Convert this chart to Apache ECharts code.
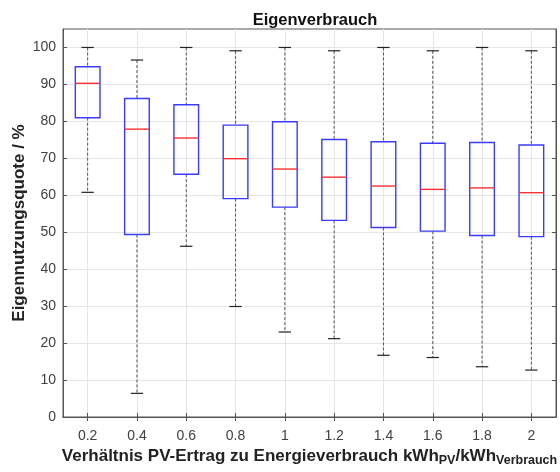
<!DOCTYPE html>
<html>
<head>
<meta charset="utf-8">
<script src="https://cdn.jsdelivr.net/npm/echarts@6/dist/echarts.min.js"></script>
<style>
  html, body { margin: 0; padding: 0; background: #fff; }
  #chart { width: 560px; height: 472px; }
</style>
</head>
<body>
<div id="chart"></div>
<script>
// Verhältnis PV-Ertrag zu Energieverbrauch
var ratios = [0.2, 0.4, 0.6, 0.8, 1.0, 1.2, 1.4, 1.6, 1.8, 2.0];
// Whisker und Box-Werte (Eigennutzungsquote in %)
var whiskerLow = [60.8, 6.4, 46.2, 29.9, 23.0, 21.2, 16.7, 16.1, 13.6, 12.7];
var boxLow = [81.0, 49.4, 65.7, 59.1, 56.8, 53.2, 51.3, 50.3, 49.1, 48.8];
var median = [90.3, 77.9, 75.5, 69.9, 67.1, 64.9, 62.5, 61.6, 62.0, 60.7];
var boxHigh = [94.8, 86.2, 84.5, 79.0, 79.9, 75.1, 74.5, 74.1, 74.3, 73.6];
var whiskerHigh = [100, 96.6, 100, 99.1, 100, 99.1, 100, 99.1, 100, 99.1];
var yTicks = [0, 10, 20, 30, 40, 50, 60, 70, 80, 90, 100];

var boxData = ratios.map(function (r, i) {
  return [r, whiskerLow[i], boxLow[i], median[i], boxHigh[i], whiskerHigh[i]];
});

var chart = echarts.init(document.getElementById('chart'));

function renderBox(params, api) {
  var x = api.value(0);
  var pLow = api.coord([x, api.value(1)]);
  var pQ1 = api.coord([x, api.value(2)]);
  var pMed = api.coord([x, api.value(3)]);
  var pQ3 = api.coord([x, api.value(4)]);
  var pHigh = api.coord([x, api.value(5)]);
  var halfBox = (api.coord([x + 0.05, 0])[0] - pMed[0]);
  var halfCap = halfBox / 2;
  var cx = pMed[0];
  var dash = { stroke: '#555', lineWidth: 1, lineDash: [3, 2] };
  var cap = { stroke: '#222', lineWidth: 1.2 };
  return {
    type: 'group',
    children: [
      { type: 'line', shape: { x1: cx, y1: pHigh[1], x2: cx, y2: pQ3[1] }, style: dash },
      { type: 'line', shape: { x1: cx, y1: pQ1[1], x2: cx, y2: pLow[1] }, style: dash },
      { type: 'line', shape: { x1: cx - halfCap, y1: pHigh[1], x2: cx + halfCap, y2: pHigh[1] }, style: cap },
      { type: 'line', shape: { x1: cx - halfCap, y1: pLow[1], x2: cx + halfCap, y2: pLow[1] }, style: cap },
      {
        type: 'rect',
        shape: { x: cx - halfBox, y: pQ3[1], width: halfBox * 2, height: pQ1[1] - pQ3[1] },
        style: { fill: 'rgba(255,255,255,0)', stroke: '#3b3bff', lineWidth: 1.4 }
      },
      { type: 'line', shape: { x1: cx - halfBox, y1: pMed[1], x2: cx + halfBox, y2: pMed[1] }, style: { stroke: '#ff3030', lineWidth: 1.4 } }
    ]
  };
}

var fam = 'Liberation Sans, Arial, sans-serif';
var labelFont = { color: '#404040', fontSize: 14, fontFamily: fam };

chart.setOption({
  animation: false,
  title: {
    text: 'Eigenverbrauch',
    left: 310,
    textAlign: 'center',
    top: 7,
    textStyle: { fontSize: 16.5, fontWeight: 'bold', color: '#111', fontFamily: fam }
  },
  grid: {
    left: 63, right: 4, top: 29, bottom: 55,
    outerBoundsMode: 'none',
    containLabel: false,
    show: true, borderColor: '#555', borderWidth: 1, backgroundColor: '#fff'
  },
  xAxis: [{
    type: 'value',
    min: 0.1, max: 2.1,
    axisLine: { lineStyle: { color: '#555' } },
    axisTick: { inside: true, length: 4, lineStyle: { color: '#555' }, customValues: ratios },
    axisLabel: Object.assign({ margin: 12, customValues: ratios, formatter: function (v) { return String(Math.round(v * 10) / 10); } }, labelFont),
    splitLine: { show: true, lineStyle: { color: '#e6e6e6' } },
    name: '{b|Verhältnis PV-Ertrag zu Energieverbrauch kWh}{s|PV}{b|/kWh}{s|Verbrauch}',
    nameLocation: 'middle',
    nameGap: 28,
    nameMoveOverlap: false,
    nameTextStyle: {
      rich: {
        b: { fontSize: 17, fontWeight: 'bold', color: '#222', fontFamily: fam, verticalAlign: 'middle', lineHeight: 22 },
        s: { fontSize: 12.5, fontWeight: 'bold', color: '#222', fontFamily: fam, verticalAlign: 'bottom', lineHeight: 10 }
      }
    }
  }, {
    type: 'value',
    position: 'top',
    min: 0.1, max: 2.1,
    axisLine: { show: true, lineStyle: { color: '#555' } },
    axisTick: { inside: true, length: 4, lineStyle: { color: '#555' }, customValues: ratios },
    axisLabel: { show: false },
    splitLine: { show: false }
  }],
  yAxis: [{
    type: 'value',
    min: 0, max: 105,
    axisLine: { show: true, lineStyle: { color: '#555' } },
    axisTick: { show: true, inside: true, length: 4, lineStyle: { color: '#555' }, customValues: yTicks },
    axisLabel: Object.assign({ margin: 7, customValues: yTicks }, labelFont),
    splitLine: { show: true, lineStyle: { color: '#e6e6e6' } },
    name: 'Eigennutzungsquote / %',
    nameLocation: 'middle',
    nameGap: 35,
    nameMoveOverlap: false,
    nameTextStyle: { fontSize: 17, fontWeight: 'bold', color: '#222', fontFamily: fam }
  }, {
    type: 'value',
    position: 'right',
    min: 0, max: 105,
    axisLine: { show: true, lineStyle: { color: '#555' } },
    axisTick: { show: true, inside: true, length: 4, lineStyle: { color: '#555' }, customValues: yTicks },
    axisLabel: { show: false },
    splitLine: { show: false }
  }],
  series: [{
    type: 'custom',
    xAxisIndex: 0,
    yAxisIndex: 0,
    renderItem: renderBox,
    encode: { x: 0, y: [1, 2, 3, 4, 5] },
    data: boxData,
    clip: false
  }]
});
</script>
</body>
</html>
